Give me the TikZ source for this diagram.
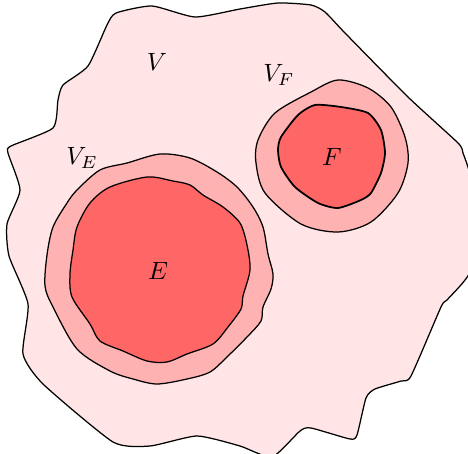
\documentclass[tikz,border=0pt]{standalone}
\begin{document}
\begin{tikzpicture}[x=0.4pt,y=-0.4pt,
  region/.style={draw=black,line width=0.5pt},
  lbl/.style={inner sep=0pt}]
\useasboundingbox (0,0) rectangle (468,454);
\clip (0,0) rectangle (468,454);
% outer region V
\filldraw[region,fill=red!10] plot[smooth cycle,tension=0.35] coordinates {
(107,25) (116,13) (152,6) (195,17) (240,9) (278,3) (311,5) (325,12) (345,33)
(408,97) (458,143) (463,153) (470,175) (474,220) (470,272) (447,300) (441,307)
(411,376) (401,381) (375,389) (366,398) (357,435) (350,439) (311,428) (300,431)
(272,457) (240,446) (197,436) (150,446) (113,442) (43,384) (23,354) (28,304)
(9,256) (7,224) (20,190) (8,153) (11,146) (53,128) (58,100) (63,85) (88,66)};
% V_E
\filldraw[region,fill=red!30] plot[smooth cycle,tension=0.5] coordinates {
(160,154) (190,158) (217,172) (237,187) (253,207) (263,227) (268,254) (273,274)
(271,289) (263,307) (261,321) (248,336) (228,356) (210,372) (187,379) (157,384)
(133,379) (110,371) (77,349) (53,307) (45,286) (47,255) (53,227) (67,203) (77,190)
(100,170) (127,163)};
% E
\filldraw[region,fill=red!60] plot[smooth cycle,tension=0.5] coordinates {
(147,177) (173,181) (190,185) (203,195) (223,207) (240,223) (247,245) (250,270)
(243,296) (241,309) (228,327) (213,344) (187,354) (167,362) (147,361) (123,351)
(100,341) (90,324) (72,297) (70,274) (73,250) (77,227) (90,203) (110,187)};
% V_F
\filldraw[region,fill=red!30] plot[smooth cycle,tension=0.5] coordinates {
(338,80) (368,88) (391,107) (405,137) (408,163) (398,193) (371,222) (338,232)
(301,224) (265,193) (256,163) (258,140) (275,113) (311,92)};
% F
\filldraw[region,fill=red!60,line width=0.7pt] plot[smooth cycle,tension=0.4] coordinates {
(315,105) (341,107) (368,113) (381,130) (385,153) (381,173) (371,193) (361,200)
(338,208) (318,203) (295,187) (281,167) (278,150) (281,137) (298,115)};
% labels
\node[lbl] (lV) at (157,62) {$V$};
\node[lbl] (lVF) at (279,75) {$V_F$};
\node[lbl] (lVE) at (82,158) {$V_E$};
\node[lbl] (lF) at (332,157) {$F$};
\node[lbl] (lE) at (158,271) {$E$};
\end{tikzpicture}
\end{document}
